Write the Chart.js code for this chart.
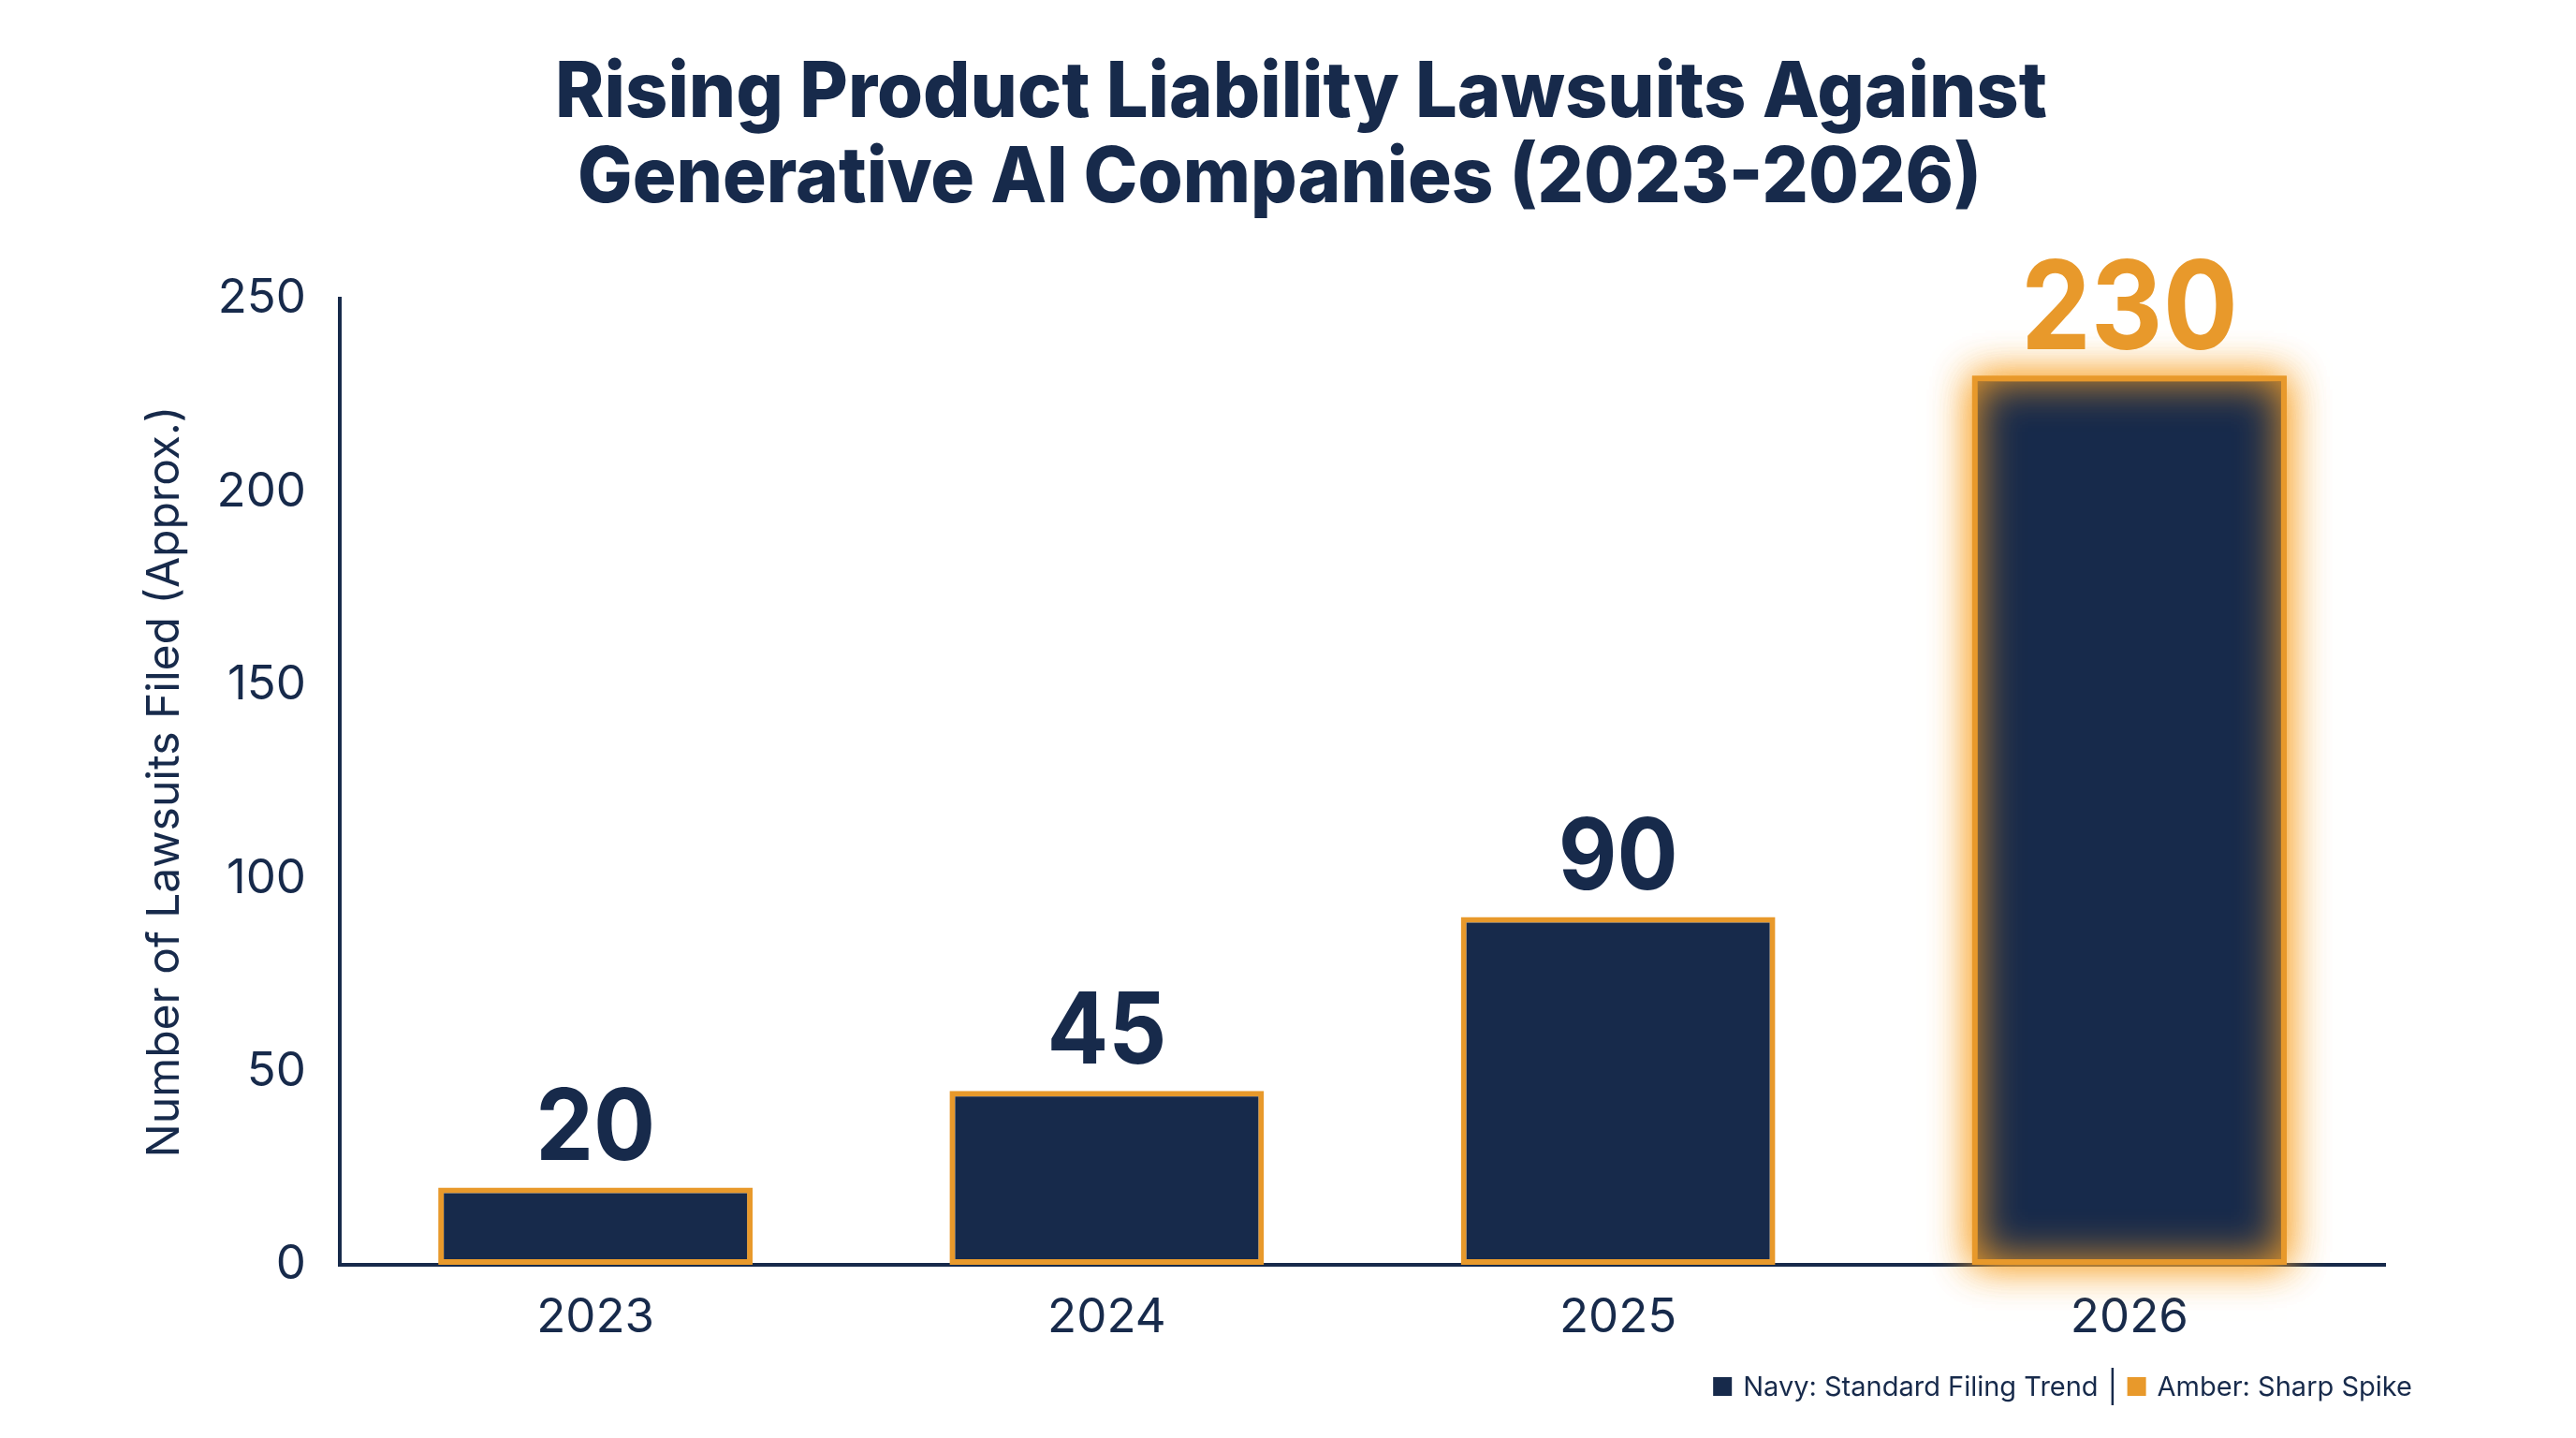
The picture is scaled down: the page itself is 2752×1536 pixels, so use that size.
<!DOCTYPE html>
<html>
<head>
<meta charset="utf-8">
<script src="https://cdn.jsdelivr.net/npm/chart.js@4.4.1/dist/chart.umd.min.js"></script>
<style>
  html, body { margin: 0; padding: 0; background: #ffffff; }
  #wrap { width: 2752px; height: 1536px; }
</style>
</head>
<body>
<div id="wrap"><canvas id="lawsuit-chart" width="2752" height="1536"></canvas></div>
<script>
// data
const years = ['2023', '2024', '2025', '2026'];
const lawsuits = [20, 45, 90, 230];
const yMax = 250;
const yStep = 50;
const titleLines = ['Rising Product Liability Lawsuits Against', 'Generative AI Companies (2023-2026)'];
const yTitle = 'Number of Lawsuits Filed (Approx.)';
const legendLabels = ['Navy: Standard Filing Trend', 'Amber: Sharp Spike'];
const spikeIndex = 3;

const NAVY = '#172a4b';
const AMBER = '#e8992b';
const FONT = 'Inter, "DejaVu Sans", sans-serif';

// glow, value labels, title and legend drawn on top of the bars
const overlayPlugin = {
    id: 'overlay',
    beforeDatasetsDraw(chart) {
        const ctx = chart.ctx;
        const bar = chart.getDatasetMeta(0).data[spikeIndex];
        const { x, y, base, width } = bar.getProps(['x', 'y', 'base', 'width'], true);
        ctx.save();
        ctx.fillStyle = AMBER;
        ctx.shadowColor = 'rgba(248,165,45,0.85)';
        ctx.shadowBlur = 40;
        ctx.fillRect(x - width / 2, y, width, base - y);
        ctx.fillRect(x - width / 2, y, width, base - y);
        ctx.restore();
    },
    afterDatasetsDraw(chart) {
        const ctx = chart.ctx;
        const meta = chart.getDatasetMeta(0);

        // inner glow of the spike bar
        const bar = meta.data[spikeIndex];
        const { x, y, base, width } = bar.getProps(['x', 'y', 'base', 'width'], true);
        const bw = 6;
        const l = x - width / 2 + bw, t = y + bw, w = width - 2 * bw, h = base - y - 2 * bw;
        ctx.save();
        ctx.beginPath();
        ctx.rect(l, t, w, h);
        ctx.clip();
        ctx.beginPath();
        ctx.rect(l - 300, t - 300, w + 600, h + 600);
        ctx.rect(l, t, w, h);
        ctx.fillStyle = AMBER;
        ctx.shadowColor = 'rgba(232,153,43,1)';
        ctx.shadowBlur = 45;
        ctx.fill('evenodd');
        ctx.restore();

        // value labels
        meta.data.forEach((el, i) => {
            const p = el.getProps(['x', 'y'], true);
            const spike = i === spikeIndex;
            ctx.save();
            ctx.font = `700 ${spike ? 132 : 106}px ${FONT}`;
            ctx.fillStyle = spike ? AMBER : NAVY;
            ctx.textAlign = 'center';
            ctx.textBaseline = 'alphabetic';
            ctx.fillText(String(lawsuits[i]), p.x, p.y - 29, spike ? 232 : (String(lawsuits[i]).length * 64));
            ctx.restore();
        });
    },
    afterDraw(chart) {
        const ctx = chart.ctx;
        ctx.save();
        // title
        ctx.font = `800 82px ${FONT}`;
        ctx.fillStyle = NAVY;
        ctx.textAlign = 'center';
        ctx.textBaseline = 'alphabetic';
        ctx.fillText(titleLines[0], 1390, 125, 1594);
        ctx.fillText(titleLines[1], 1367, 216, 1500);

        // legend, right aligned
        ctx.font = `400 29px ${FONT}`;
        ctx.textBaseline = 'middle';
        ctx.textAlign = 'left';
        const colors = [NAVY, AMBER];
        const sq = 20, gap = 12, sepGap = 14, cy = 1481;
        const widths = legendLabels.map(t => ctx.measureText(t).width);
        const total = widths.reduce((a, b) => a + b, 0) + legendLabels.length * (sq + gap) + 2 * sepGap + 3;
        let cx = 2577 - total;
        legendLabels.forEach((label, i) => {
            if (i > 0) {
                cx += sepGap;
                ctx.fillStyle = NAVY;
                ctx.fillRect(cx, cy - 20, 2.5, 40);
                cx += 3 + sepGap;
            }
            ctx.fillStyle = colors[i];
            ctx.fillRect(cx, cy - sq / 2, sq, sq);
            cx += sq + gap;
            ctx.fillStyle = NAVY;
            ctx.fillText(label, cx, cy + 1);
            cx += widths[i];
        });
        ctx.restore();
    }
};

new Chart(document.getElementById('lawsuit-chart').getContext('2d'), {
    type: 'bar',
    data: {
        labels: years,
        datasets: [{
            data: lawsuits,
            backgroundColor: NAVY,
            borderColor: AMBER,
            borderWidth: 6,
            borderSkipped: false,
            barPercentage: 0.615,
            categoryPercentage: 1.0
        }]
    },
    options: {
        responsive: false, animation: false, devicePixelRatio: 1,
        layout: { padding: { top: 319, right: 204, left: 0, bottom: 0 } },
        plugins: { legend: { display: false }, tooltip: { enabled: false }, title: { display: false } },
        scales: {
            x: {
                grid: { display: false },
                border: { display: true, color: NAVY, width: 4 },
                ticks: { color: NAVY, font: { family: FONT, size: 51 }, padding: 18 },
                afterFit: (s) => { s.height = 185; }
            },
            y: {
                min: 0, max: yMax,
                grid: { display: false },
                border: { display: true, color: NAVY, width: 4 },
                ticks: { stepSize: yStep, color: NAVY, font: { family: FONT, size: 51 }, padding: 28 },
                title: { display: true, text: yTitle, color: NAVY, font: { family: FONT, size: 48 }, padding: { top: 148, bottom: 0 } },
                afterFit: (s) => { s.width = 363; }
            }
        }
    },
    plugins: [overlayPlugin]
});
</script>
</body>
</html>
